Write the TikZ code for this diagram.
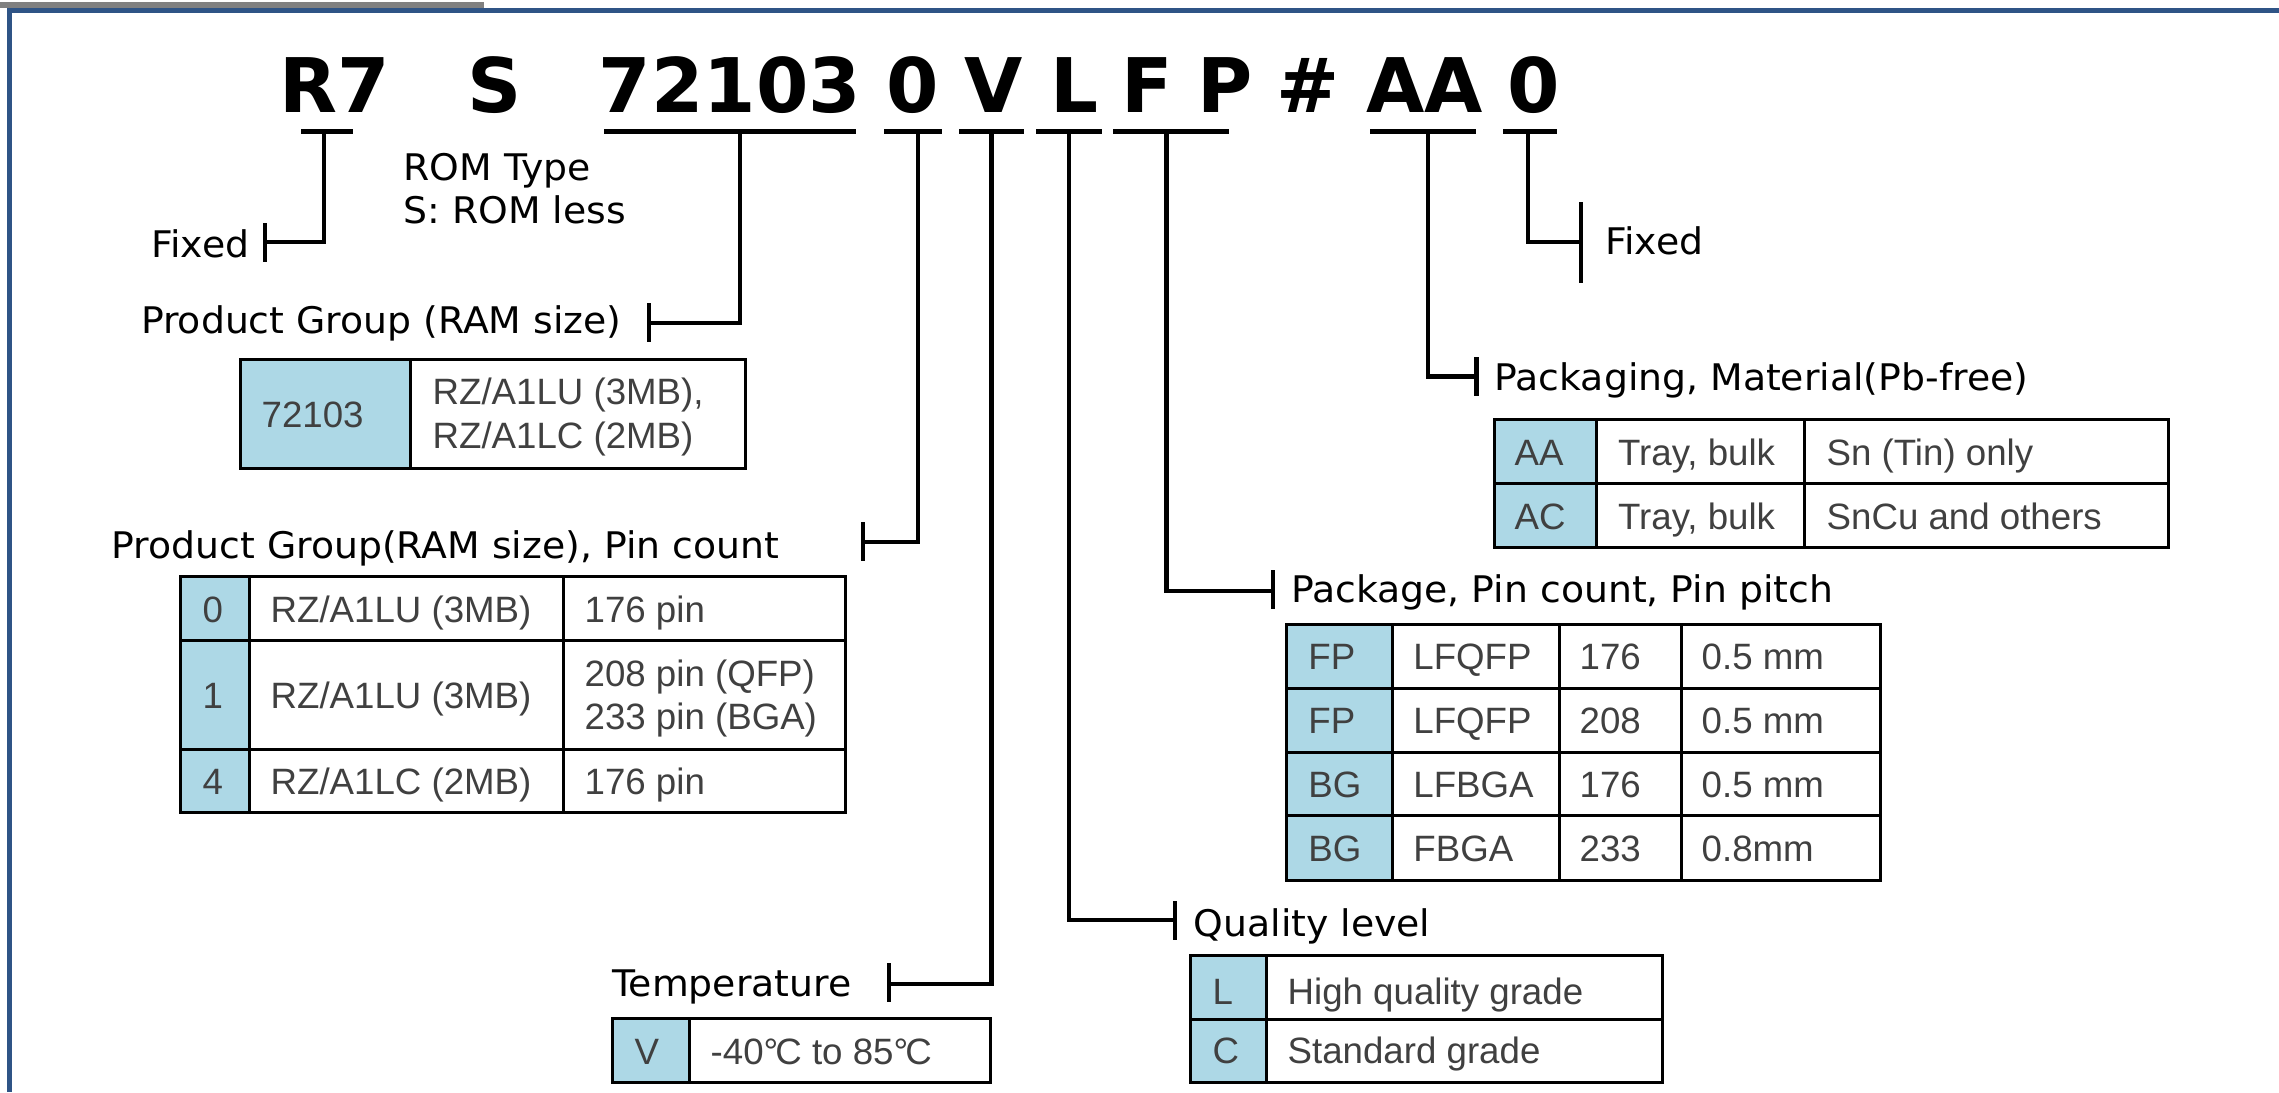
\documentclass[tikz,border=0pt]{standalone}
\usepackage{fontspec}
\setmainfont{DejaVu Sans}
\newfontfamily\lblfont{DejaVu Sans}[FakeStretch=1.03]
\newfontfamily\tabfont{Liberation Sans}
\definecolor{frameblue}{RGB}{47,84,134}
\definecolor{bargray}{RGB}{128,128,128}
\definecolor{cellblue}{RGB}{173,216,230}
\definecolor{tabgray}{RGB}{64,64,64}
\newcommand{\pnconn}[8]{%
  \coordinate (#1-ul) at (#2,131);
  \coordinate (#1-ur) at (#3,131);
  \coordinate (#1-top) at (#4,131);
  \coordinate (#1-bend) at (#4,#5);
  \coordinate (#1-end) at (#6,#5);
  \coordinate (#1-t1) at (#6,#7);
  \coordinate (#1-t2) at (#6,#8);
  \draw[ulline] (#1-ul) -- (#1-ur);
  \draw[conn] (#1-top) -- (#1-bend) -- (#1-end);
  \draw[conn] (#1-t1) -- (#1-t2);}
\begin{document}
\begin{tikzpicture}[x=0.3pt,y=-0.3pt,
  hdr/.style={font=\fontsize{22.6}{26}\selectfont\bfseries, inner sep=0, anchor=base},
  lbl/.style={font=\lblfont\fontsize{11}{13}\selectfont, inner sep=0},
  tt/.style={font=\tabfont\fontsize{11}{13}\selectfont, text=tabgray, inner sep=0, anchor=base west},
  ulline/.style={line width=1.5pt},
  conn/.style={line width=1.35pt},
  cellb/.style={fill=cellblue, draw=black, line width=0.9pt},
  cellw/.style={fill=white, draw=black, line width=0.9pt}]
\useasboundingbox (0,0) rectangle (2279,1092);
% frame
\fill[bargray] (0,2) rectangle (484,8);
\fill[frameblue] (8,8) rectangle (2279,13);
\fill[frameblue] (7,8) rectangle (12,1092);
% header
\node[hdr] (hR) at (334.75,112) {R7};
\node[hdr] (hS) at (494.5,112) {S};
\node[hdr] (hN) at (729.75,112) {72103};
\node[hdr] (h0) at (912.75,112) {0};
\node[hdr] (hV) at (994,112) {V};
\node[hdr] (hL) at (1074.5,112) {L};
\node[hdr] (hF) at (1147.5,112) {F};
\node[hdr] (hP) at (1225,112) {P};
\node[hdr] (hH) at (1308.5,112) {\#};
\node[hdr] (hA) at (1424.5,112) {AA};
\node[hdr] (hZ) at (1533.5,112) {0};
% connectors
\pnconn{cR}{301}{353}{324}{242}{265}{223}{262}
\pnconn{cN}{604}{856}{740}{323}{649}{303}{342}
\pnconn{c0}{884}{942}{918}{542}{863}{522}{561}
\pnconn{cV}{959}{1024}{991.5}{984}{889}{963}{1002}
\pnconn{cL}{1036}{1102}{1069}{920}{1175}{901}{940}
\pnconn{cF}{1113}{1229}{1166.5}{591}{1273}{570}{609}
\pnconn{cA}{1370}{1476}{1428}{376.5}{1476.5}{357}{396}
\pnconn{cZ}{1503}{1557}{1528}{242}{1581}{202}{283}
% labels
\node[lbl, anchor=base east] (lFix1) at (250,257) {Fixed};
\node[lbl, anchor=base west] (lRom1) at (403,180) {ROM Type};
\node[lbl, anchor=base west] (lRom2) at (403,223) {S: ROM less};
\node[lbl, anchor=base east] (lPG) at (622,333) {Product Group (RAM size)};
\node[lbl, anchor=base east] (lPGP) at (779.6,558) {Product Group(RAM size), Pin count};
\node[lbl, anchor=base east] (lTemp) at (852,996.7) {Temperature};
\node[lbl, anchor=base west] (lQual) at (1193,936) {Quality level};
\node[lbl, anchor=base west] (lPkg) at (1290.7,602) {Package, Pin count, Pin pitch};
\node[lbl, anchor=base west] (lMat) at (1494,390) {Packaging, Material(Pb-free)};
\node[lbl, anchor=base west] (lFix2) at (1604.7,254) {Fixed};
% table 1
\draw[cellb] (240,359) rectangle (410,468);
\draw[cellw] (410,359) rectangle (745,468);
\node[tt] (t1a) at (261,427) {72103};
\node[tt] (t1b) at (432,404) {RZ/A1LU (3MB),};
\node[tt] (t1c) at (432,448) {RZ/A1LC (2MB)};
% table 2
\draw[cellb] (180,576.7) rectangle (249,640.7);
\draw[cellw] (249,576.7) rectangle (563,640.7);
\draw[cellw] (563,576.7) rectangle (845,640.7);
\draw[cellb] (180,640.7) rectangle (249,749);
\draw[cellw] (249,640.7) rectangle (563,749);
\draw[cellw] (563,640.7) rectangle (845,749);
\draw[cellb] (180,749) rectangle (249,812.7);
\draw[cellw] (249,749) rectangle (563,812.7);
\draw[cellw] (563,749) rectangle (845,812.7);
\node[tt] (t2a1) at (202,622) {0};
\node[tt] (t2b1) at (270,622) {RZ/A1LU (3MB)};
\node[tt] (t2c1) at (584,622) {176 pin};
\node[tt] (t2a2) at (202,708) {1};
\node[tt] (t2b2) at (270,708) {RZ/A1LU (3MB)};
\node[tt] (t2c2) at (584,686) {208 pin (QFP)};
\node[tt] (t2d2) at (584,729) {233 pin (BGA)};
\node[tt] (t2a3) at (202,794) {4};
\node[tt] (t2b3) at (270,794) {RZ/A1LC (2MB)};
\node[tt] (t2c3) at (584,794) {176 pin};
% table 3
\foreach \ya/\yb/\yt/\a/\b/\c/\d [count=\i] in {
  624.5/688.4/669.5/FP/LFQFP/176/0.5 mm,
  688.4/752.3/733.4/FP/LFQFP/208/0.5 mm,
  752.3/815.9/797.1/BG/LFBGA/176/0.5 mm,
  815.9/880.6/861.2/BG/FBGA/233/0.8mm}{
  \draw[cellb] (1286,\ya) rectangle (1392.4,\yb);
  \draw[cellw] (1392.4,\ya) rectangle (1559.7,\yb);
  \draw[cellw] (1559.7,\ya) rectangle (1681.8,\yb);
  \draw[cellw] (1681.8,\ya) rectangle (1880,\yb);
  \node[tt] (t3a\i) at (1307.7,\yt) {\a};
  \node[tt] (t3b\i) at (1412.7,\yt) {\b};
  \node[tt] (t3c\i) at (1579,\yt) {\c};
  \node[tt] (t3d\i) at (1701,\yt) {\d};
}
% table 4
\foreach \ya/\yb/\yt/\a/\b/\c [count=\i] in {
  419.4/483.7/465/AA/{Tray, bulk}/Sn (Tin) only,
  483.7/547.6/529/AC/{Tray, bulk}/SnCu and others}{
  \draw[cellb] (1494,\ya) rectangle (1596.5,\yb);
  \draw[cellw] (1596.5,\ya) rectangle (1804.5,\yb);
  \draw[cellw] (1804.5,\ya) rectangle (2168.6,\yb);
  \node[tt] (t4a\i) at (1514,\yt) {\a};
  \node[tt] (t4b\i) at (1617.5,\yt) {\b};
  \node[tt] (t4c\i) at (1826,\yt) {\c};
}
% table 5
\draw[cellb] (1190,955) rectangle (1266.5,1019);
\draw[cellw] (1266.5,955) rectangle (1662.6,1019);
\draw[cellb] (1190,1019) rectangle (1266.5,1082);
\draw[cellw] (1266.5,1019) rectangle (1662.6,1082);
\node[tt] (t5a1) at (1212,1004) {L};
\node[tt] (t5b1) at (1287,1004) {High quality grade};
\node[tt] (t5a2) at (1212,1063) {C};
\node[tt] (t5b2) at (1287,1063) {Standard grade};
% table 6
\draw[cellb] (612,1018) rectangle (689,1082);
\draw[cellw] (689,1018) rectangle (990,1082);
\node[tt] (t6a) at (634,1064) {V};
\node[tt] (t6b) at (710,1064) {-40{°}\kern-0.08em C to 85{°}\kern-0.08em C};
\end{tikzpicture}
\end{document}
